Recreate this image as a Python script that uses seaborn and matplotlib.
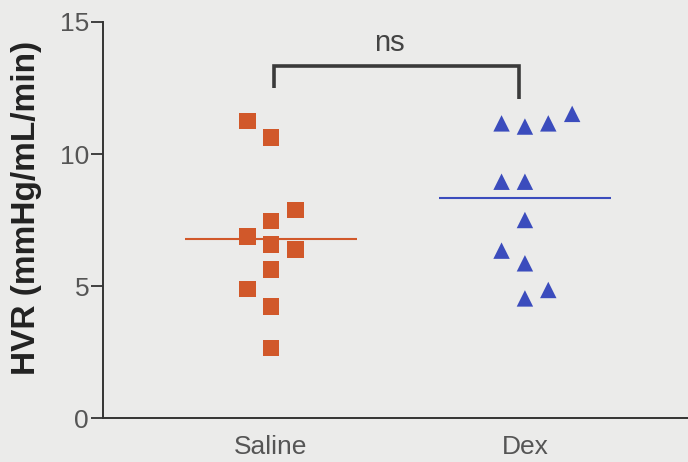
import matplotlib
matplotlib.use("Agg")
import matplotlib.pyplot as plt
import seaborn as sns
import pandas as pd
import numpy as np

# ---- data ----
categories = ["Saline", "Dex"]
saline_values = [11.26, 10.63, 7.88, 7.47, 6.87, 6.58, 6.39, 5.63, 4.89, 4.22, 2.66]
dex_values = [11.16, 11.04, 11.16, 11.52, 8.95, 8.95, 7.50, 6.34, 5.86, 4.85, 4.53]
y_ticks = [0, 5, 10, 15]
sig_label = "ns"

# ---- layout (horizontal placement of points within each group) ----
saline_offsets = [-0.092, 0.0, 0.097, 0.0, -0.092, 0.0, 0.097, 0.0, -0.092, 0.0, 0.0]
dex_offsets = [-0.092, 0.0, 0.092, 0.186, -0.092, 0.0, 0.0, -0.092, 0.0, 0.092, 0.0]
mean_half_width = 0.338

orange = "#d1582a"
blue = "#3b4cbd"
bg = "#ebebea"

rows = []
for i, (cat, vals, offs) in enumerate([(categories[0], saline_values, saline_offsets),
                                       (categories[1], dex_values, dex_offsets)]):
    for v, o in zip(vals, offs):
        rows.append({"group": cat, "x": i + o, "HVR": v})
df = pd.DataFrame(rows)

sns.set_theme(style="ticks")
plt.rcParams['font.family'] = ['Liberation Sans', 'DejaVu Sans']

fig = plt.figure(figsize=(6.88, 4.62), dpi=100, facecolor=bg)
ax = fig.add_axes([0.1497, 0.0952, 0.8503, 0.8572])
ax.set_facecolor(bg)

sns.scatterplot(data=df, x="x", y="HVR", hue="group", style="group",
                markers={"Saline": "s", "Dex": "^"},
                palette={"Saline": orange, "Dex": blue},
                s=140, linewidth=0, legend=False, ax=ax, zorder=3)

# mean lines
means = [np.mean(saline_values), np.mean(dex_values)]
for i, (m, c) in enumerate(zip(means, [orange, blue])):
    ax.hlines(m, i - mean_half_width, i + mean_half_width, color=c, lw=1.5, zorder=2)

# significance bracket
bc = "#3a3a3a"
ax.plot([0.012, 0.012, 0.976, 0.976], [12.5, 13.35, 13.35, 12.1],
        color=bc, lw=2.6, solid_capstyle="butt", solid_joinstyle="miter", zorder=4)
ax.text(0.466, 14.2, sig_label, ha="center", va="center", fontsize=21, color="#444444")

ax.set_xlim(-0.661, 1.642)
ax.set_ylim(0, 15)
ax.set_xticks([0, 1])
ax.set_xticklabels(categories)
ax.set_yticks(y_ticks)
ax.set_yticklabels([str(t) for t in y_ticks])
ax.set_xlabel("")
ax.set_ylabel("HVR (mmHg/mL/min)", fontsize=24, fontweight="bold", color="#222222")
ax.yaxis.set_label_coords(-0.104, 0.53)

for side in ["top", "right"]:
    ax.spines[side].set_visible(False)
for side in ["left", "bottom"]:
    ax.spines[side].set_color("#333333")
    ax.spines[side].set_linewidth(1.4)
ax.tick_params(axis="y", length=9, width=1.3, color="#333333", labelsize=19, labelcolor="#555555", pad=1)
ax.tick_params(axis="x", length=0, labelsize=19, labelcolor="#555555", pad=12)

fig.savefig("out.png", dpi=100, facecolor=bg)
